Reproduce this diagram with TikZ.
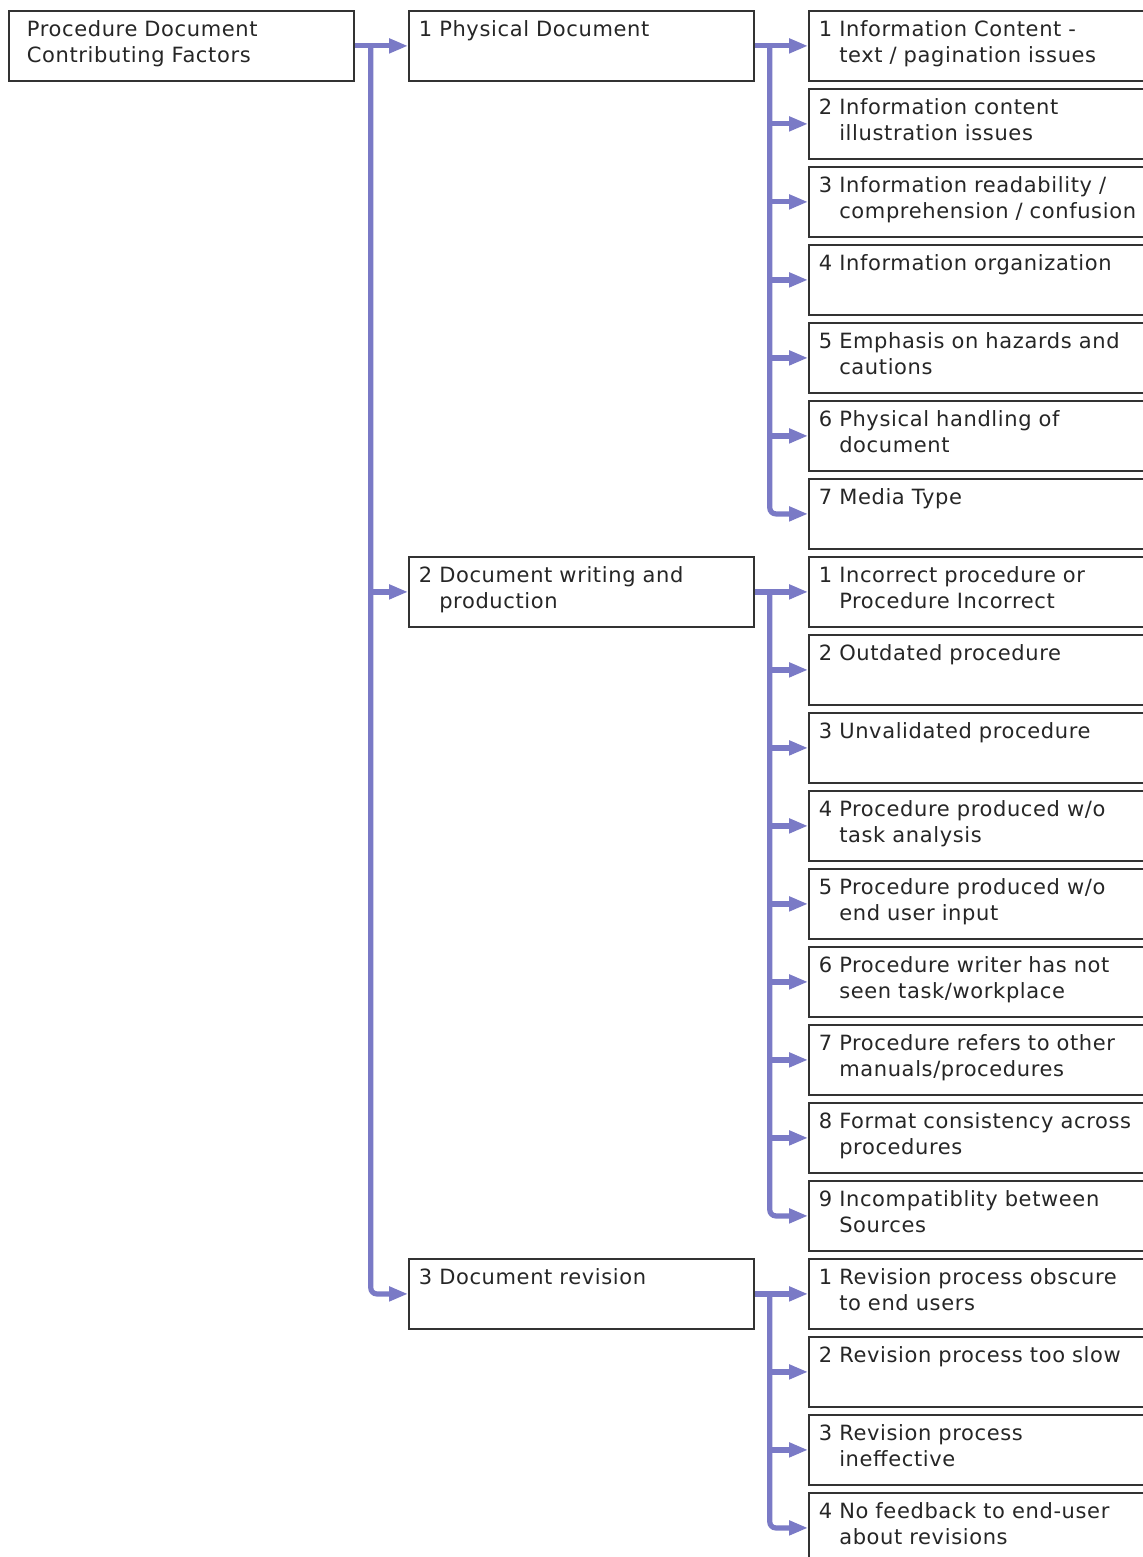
\documentclass[tikz,border=0pt]{standalone}
\usepackage{fontspec}
\setmainfont{DejaVu Sans}[LetterSpace=3]
\usetikzlibrary{arrows.meta}
\definecolor{linkblue}{RGB}{122,122,198}
\hfuzz=300pt
\hbadness=10000
\tikzstyle{factor} = [
    rectangle,
    draw=black!80,
    line width=0.9pt,
    text width=162.5pt,
    align=left,
    inner xsep=5pt,
    inner ysep=4pt,
    text height=9pt,
    text depth=18pt,
    text=black!85,
    font=\fontsize{10.5}{13}\selectfont
]
\tikzstyle{link} = [
    linkblue,
    line width=2.6pt,
    rounded corners=3pt,
    -{Triangle[length=9.5pt,width=7pt]}
]
\newcommand{\numbered}[3]{#1~\begin{tabular}[t]{@{}l@{}}#2\\#3\end{tabular}}

\begin{document}
\begin{tikzpicture}[x=0.5pt, y=-0.5pt, node distance=39pt]

\useasboundingbox (0,0) rectangle (1143,1557);
\fill [white] (0,0) rectangle (1143,1557);
\clip (0,0) rectangle (1143,1557);

\node (root) [factor, anchor=north west, inner xsep=9pt, text width=154.5pt] at (8,10)
{Procedure Document\\Contributing Factors};

% second column
\node (phys) [factor, node distance=200pt, right of=root]
{\numbered{1}{Physical Document}{}};

% third column, one chain from top to bottom
\node (phys1) [factor, node distance=200pt, right of=phys]
{\numbered{1}{Information Content -}{text / pagination issues}};
\node (phys2) [factor, below of=phys1]
{\numbered{2}{Information content}{illustration issues}};
\node (phys3) [factor, below of=phys2]
{\numbered{3}{Information readability /}{comprehension / confusion}};
\node (phys4) [factor, below of=phys3]
{\numbered{4}{Information organization}{}};
\node (phys5) [factor, below of=phys4]
{\numbered{5}{Emphasis on hazards and}{cautions}};
\node (phys6) [factor, below of=phys5]
{\numbered{6}{Physical handling of}{document}};
\node (phys7) [factor, below of=phys6]
{\numbered{7}{Media Type}{}};

\node (writ1) [factor, below of=phys7]
{\numbered{1}{Incorrect procedure or}{Procedure Incorrect}};
\node (writ2) [factor, below of=writ1]
{\numbered{2}{Outdated procedure}{}};
\node (writ3) [factor, below of=writ2]
{\numbered{3}{Unvalidated procedure}{}};
\node (writ4) [factor, below of=writ3]
{\numbered{4}{Procedure produced w/o}{task analysis}};
\node (writ5) [factor, below of=writ4]
{\numbered{5}{Procedure produced w/o}{end user input}};
\node (writ6) [factor, below of=writ5]
{\numbered{6}{Procedure writer has not}{seen task/workplace}};
\node (writ7) [factor, below of=writ6]
{\numbered{7}{Procedure refers to other}{manuals/procedures}};
\node (writ8) [factor, below of=writ7]
{\numbered{8}{Format consistency across}{procedures}};
\node (writ9) [factor, below of=writ8]
{\numbered{9}{Incompatiblity between}{Sources}};

\node (rev1) [factor, below of=writ9]
{\numbered{1}{Revision process obscure}{to end users}};
\node (rev2) [factor, below of=rev1]
{\numbered{2}{Revision process too slow}{}};
\node (rev3) [factor, below of=rev2]
{\numbered{3}{Revision process}{ineffective}};
\node (rev4) [factor, below of=rev3]
{\numbered{4}{No feedback to end-user}{about revisions}};

% rest of second column
\node (writ) [factor, node distance=200pt, left of=writ1]
{\numbered{2}{Document writing and}{production}};
\node (rev) [factor, node distance=200pt, left of=rev1]
{\numbered{3}{Document revision}{}};

% forks
\coordinate (rootfork) at ([xshift=8pt]root.east);
\coordinate (physfork) at ([xshift=7.5pt]phys.east);
\coordinate (writfork) at ([xshift=7.5pt]writ.east);
\coordinate (revfork) at ([xshift=7.5pt]rev.east);

\draw [link] (root.east) -- (phys.west);
\draw [link] (rootfork |- writ.west) -- (writ.west);
\draw [link] (rootfork) |- (rev.west);

\draw [link] (phys.east) -- (phys1.west);
\draw [link] (physfork |- phys2.west) -- (phys2.west);
\draw [link] (physfork |- phys3.west) -- (phys3.west);
\draw [link] (physfork |- phys4.west) -- (phys4.west);
\draw [link] (physfork |- phys5.west) -- (phys5.west);
\draw [link] (physfork |- phys6.west) -- (phys6.west);
\draw [link] (physfork) |- (phys7.west);

\draw [link] (writ.east) -- (writ1.west);
\draw [link] (writfork |- writ2.west) -- (writ2.west);
\draw [link] (writfork |- writ3.west) -- (writ3.west);
\draw [link] (writfork |- writ4.west) -- (writ4.west);
\draw [link] (writfork |- writ5.west) -- (writ5.west);
\draw [link] (writfork |- writ6.west) -- (writ6.west);
\draw [link] (writfork |- writ7.west) -- (writ7.west);
\draw [link] (writfork |- writ8.west) -- (writ8.west);
\draw [link] (writfork) |- (writ9.west);

\draw [link] (rev.east) -- (rev1.west);
\draw [link] (revfork |- rev2.west) -- (rev2.west);
\draw [link] (revfork |- rev3.west) -- (rev3.west);
\draw [link] (revfork) |- (rev4.west);

\end{tikzpicture}
\end{document}
